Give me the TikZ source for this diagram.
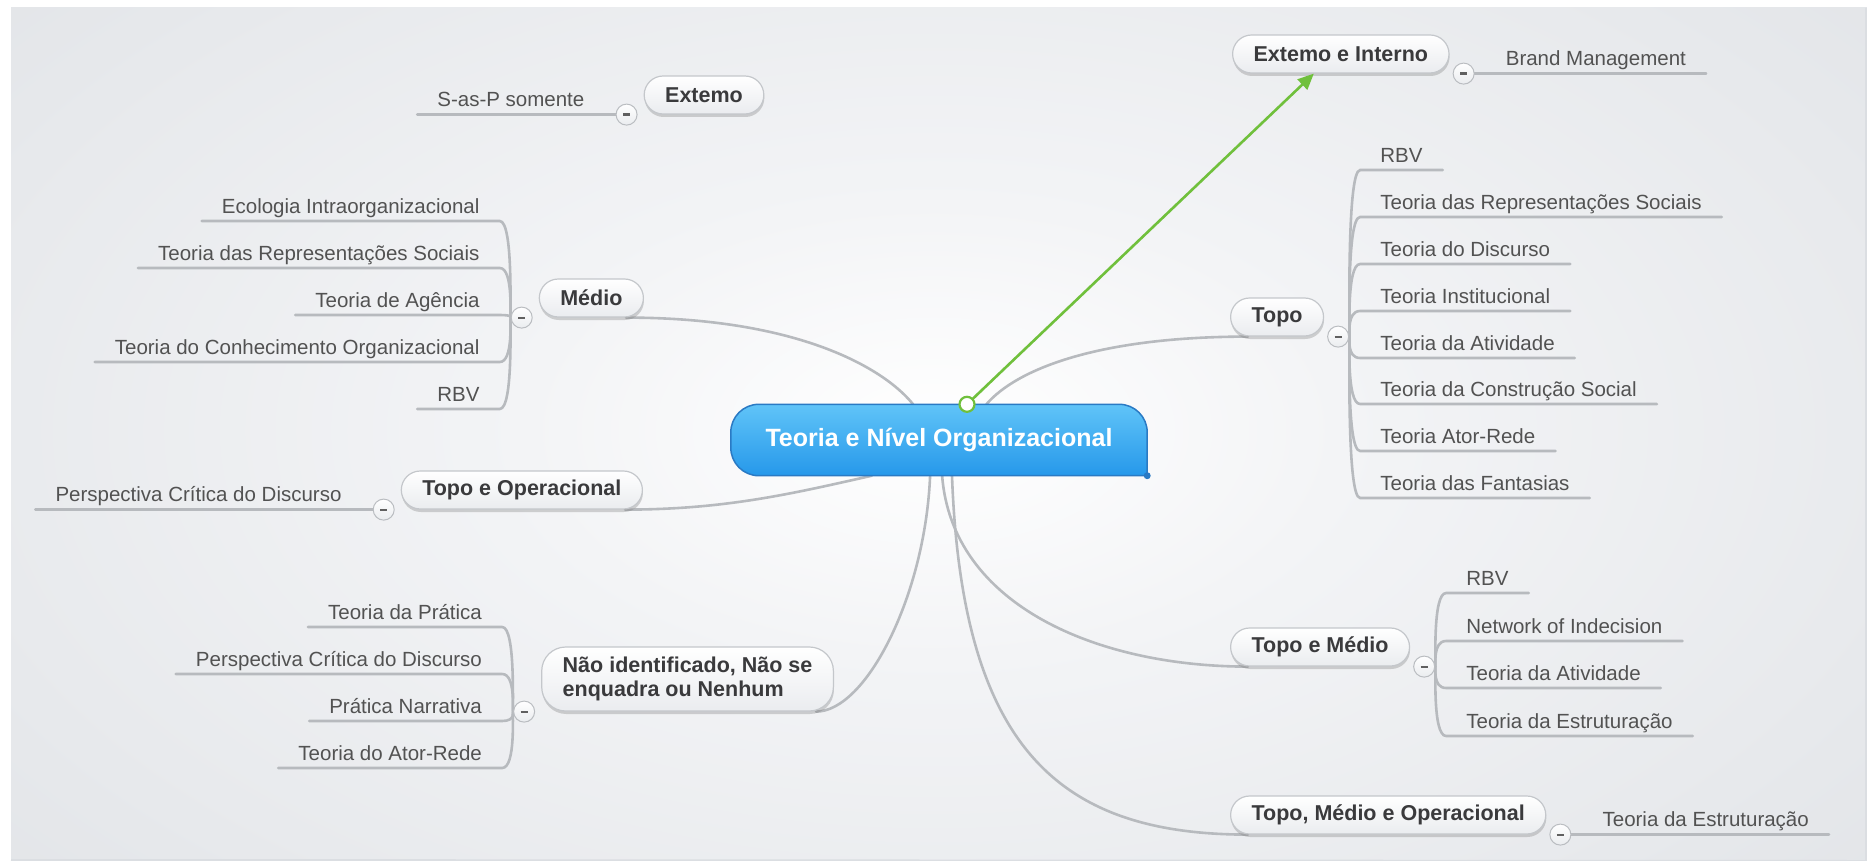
\documentclass[tikz,border=0pt]{standalone}
\usepackage{fontspec}
\setmainfont{Liberation Sans}
\usetikzlibrary{arrows.meta,shadows}

\definecolor{bgcol}{RGB}{219,222,226}
\definecolor{bgmid}{RGB}{243,244,246}
\definecolor{branchcol}{RGB}{183,186,190}
\definecolor{leafcol}{RGB}{82,82,82}
\definecolor{topiccol}{RGB}{58,58,60}
\definecolor{topicedge}{RGB}{196,199,203}
\definecolor{topicbot}{RGB}{234,236,239}
\definecolor{bluetop}{RGB}{96,196,248}
\definecolor{bluebot}{RGB}{38,152,234}
\definecolor{blueedge}{RGB}{42,122,196}
\definecolor{linkgreen}{RGB}{112,192,60}
\definecolor{knobedge}{RGB}{186,189,193}
\definecolor{dashcol}{RGB}{96,96,96}

\pgfdeclareradialshading{mapbg}{\pgfpointorigin}{color(0bp)=(white); color(9bp)=(bgmid); color(36bp)=(bgcol); color(50bp)=(bgcol)}
\pgfdeclarelayer{back}
\pgfdeclarelayer{lines}
\pgfdeclarelayer{mid}
\pgfsetlayers{back,lines,mid,main}

\tikzset{
  branch/.style={draw=branchcol, line width=2.6pt, line cap=round},
  topic/.style={rounded corners=19pt, draw=topicedge, line width=1.2pt,
    top color=white, bottom color=topicbot, minimum height=38pt,
    inner xsep=21pt, text=topiccol, font=\fontsize{21.5}{24}\selectfont\bfseries,
    drop shadow={shadow xshift=0.5pt, shadow yshift=-3pt, opacity=0.3, fill=black!55}},
  leaf/.style={text=leafcol, inner xsep=20pt, inner ysep=3pt,
    text height=15pt, text depth=4.5pt, font=\fontsize{20.5}{24}\selectfont},
  rleaf/.style={leaf, anchor=south west, xshift=22pt},
  lleaf/.style={leaf, anchor=south east, xshift=-22pt},
  knob/.style={circle, draw=knobedge, line width=1pt, top color=white,
    bottom color=topicbot, minimum size=21pt, inner sep=0pt, text=dashcol},
  centertopic/.style={minimum width=416pt, minimum height=71pt, text=white,
    font=\fontsize{25}{28}\selectfont\bfseries},
  centershape/.style={rounded corners=28pt, draw=blueedge, line width=1.5pt,
    top color=bluetop, bottom color=bluebot},
  greendot/.style={circle, draw=linkgreen, line width=2.2pt, fill=white,
    minimum size=15pt, inner sep=0pt},
  link/.style={draw=linkgreen, line width=2.6pt, -{Triangle[length=16pt,width=14pt]}}
}

\begin{document}
\begin{tikzpicture}[x=1pt, y=-1pt]

\def\knobmark{\rule{7pt}{2.2pt}}
\def\mapframe{(11,8) rectangle (1867,861)}

\useasboundingbox (0,0) rectangle (1867,861);
\begin{pgfonlayer}{back}
\fill[white] (0,0) rectangle (1867,861);
\fill[bgcol] \mapframe;
\begin{scope}
\clip \mapframe;
\shade[shading=mapbg] (-200,-200) rectangle (2067,1061);
\end{scope}
\end{pgfonlayer}

% central topic
\node[centertopic] (cen) at (939,440) {Teoria e Nível Organizacional};
\begin{pgfonlayer}{mid}
\draw[centershape] (cen.south east) -- (cen.north east) -- (cen.north west) -- (cen.south west) -- (cen.south east);
\fill[blueedge] (cen.south east) circle (3.5pt);
\end{pgfonlayer}

% main topics
\node[topic, anchor=west] (extint) at (1232,54) {Extemo e Interno};
\node[topic] (ext) at (704,95) {Extemo};
\node[topic, anchor=east] (medio) at (644,298) {Médio};
\node[topic, anchor=east] (topoop) at (643,490) {Topo e Operacional};
\node[topic, anchor=east, align=left, minimum height=64pt, rounded corners=24pt] (nao) at (834,679) {Não identificado, Não se\\enquadra ou Nenhum};
\node[topic, anchor=west] (topo) at (1230,317) {Topo};
\node[topic, anchor=west] (topomedio) at (1230,647) {Topo e Médio};
\node[topic, anchor=west] (tmo) at (1230,815) {Topo, Médio e Operacional};

% collapse knobs
\node[knob] (extint-k) at ([xshift=14pt]extint.south east) {\knobmark};
\node[knob] (ext-k) at ([xshift=-17pt]ext.south west) {\knobmark};
\node[knob] (medio-k) at ([xshift=-17pt]medio.south west) {\knobmark};
\node[knob] (topoop-k) at ([xshift=-17pt]topoop.south west) {\knobmark};
\node[knob] (nao-k) at ([xshift=-17pt]nao.south west) {\knobmark};
\node[knob] (topo-k) at ([xshift=14pt]topo.south east) {\knobmark};
\node[knob] (topomedio-k) at ([xshift=14pt]topomedio.south east) {\knobmark};
\node[knob] (tmo-k) at ([xshift=14pt]tmo.south east) {\knobmark};

% leaves
\node[rleaf] (x1) at (extint-k) {Brand Management};
\node[lleaf] (e1) at (ext-k) {S-as-P somente};
\node[lleaf] (o1) at (topoop-k) {Perspectiva Crítica do Discurso};
\node[rleaf] (s1) at (tmo-k) {Teoria da Estruturação};

\node[lleaf] (m1) at (medio-k |- 0,221) {Ecologia Intraorganizacional};
\node[lleaf] (m2) at (medio-k |- 0,268) {Teoria das Representações Sociais};
\node[lleaf] (m3) at (medio-k |- 0,315) {Teoria de Agência};
\node[lleaf] (m4) at (medio-k |- 0,362) {Teoria do Conhecimento Organizacional};
\node[lleaf] (m5) at (medio-k |- 0,409) {RBV};

\node[lleaf] (n1) at (nao-k |- 0,627) {Teoria da Prática};
\node[lleaf] (n2) at (nao-k |- 0,674) {Perspectiva Crítica do Discurso};
\node[lleaf] (n3) at (nao-k |- 0,721) {Prática Narrativa};
\node[lleaf] (n4) at (nao-k |- 0,768) {Teoria do Ator-Rede};

\node[rleaf] (t1) at (topo-k |- 0,170) {RBV};
\node[rleaf] (t2) at (topo-k |- 0,217) {Teoria das Representações Sociais};
\node[rleaf] (t3) at (topo-k |- 0,264) {Teoria do Discurso};
\node[rleaf] (t4) at (topo-k |- 0,311) {Teoria Institucional};
\node[rleaf] (t5) at (topo-k |- 0,358) {Teoria da Atividade};
\node[rleaf] (t6) at (topo-k |- 0,404) {Teoria da Construção Social};
\node[rleaf] (t7) at (topo-k |- 0,451) {Teoria Ator-Rede};
\node[rleaf] (t8) at (topo-k |- 0,498) {Teoria das Fantasias};

\node[rleaf] (p1) at (topomedio-k |- 0,593) {RBV};
\node[rleaf] (p2) at (topomedio-k |- 0,641) {Network of Indecision};
\node[rleaf] (p3) at (topomedio-k |- 0,688) {Teoria da Atividade};
\node[rleaf] (p4) at (topomedio-k |- 0,736) {Teoria da Estruturação};

% connectors
\begin{pgfonlayer}{lines}
\draw[branch] ([xshift=-18pt]medio.south east) .. controls +(174,0) and +(-28,-35) .. (cen.126);
\draw[branch] ([xshift=18pt]topo.south west) .. controls +(-150,0) and +(30,-35) .. (cen.37);
\draw[branch] ([xshift=-18pt]topoop.south east) .. controls +(100,0) and +(-80,18) .. (cen.208);
\draw[branch] (cen.256) .. controls +(-5,120) and +(50,0) .. ([xshift=-18pt]nao.south east);
\draw[branch] (cen.275) .. controls +(10,130) and +(-150,0) .. ([xshift=18pt]topomedio.south west);
\draw[branch] (cen.290) .. controls +(10,274) and +(-188,0) .. ([xshift=18pt]tmo.south west);

\draw[branch] (extint-k) -- (x1.south west) -- (x1.south east);
\draw[branch] (ext-k) -- (e1.south east) -- (e1.south west);
\draw[branch] (topoop-k) -- (o1.south east) -- (o1.south west);
\draw[branch] (tmo-k) -- (s1.south west) -- (s1.south east);

\draw[branch] (medio-k) .. controls +(-12,0) and +(14,0) .. (m1.south east) -- (m1.south west);
\draw[branch] (medio-k) .. controls +(-12,0) and +(14,0) .. (m2.south east) -- (m2.south west);
\draw[branch] (medio-k) .. controls +(-12,0) and +(14,0) .. (m3.south east) -- (m3.south west);
\draw[branch] (medio-k) .. controls +(-12,0) and +(14,0) .. (m4.south east) -- (m4.south west);
\draw[branch] (medio-k) .. controls +(-12,0) and +(14,0) .. (m5.south east) -- (m5.south west);

\draw[branch] (nao-k) .. controls +(-12,0) and +(14,0) .. (n1.south east) -- (n1.south west);
\draw[branch] (nao-k) .. controls +(-12,0) and +(14,0) .. (n2.south east) -- (n2.south west);
\draw[branch] (nao-k) .. controls +(-12,0) and +(14,0) .. (n3.south east) -- (n3.south west);
\draw[branch] (nao-k) .. controls +(-12,0) and +(14,0) .. (n4.south east) -- (n4.south west);

\draw[branch] (topo-k) .. controls +(12,0) and +(-14,0) .. (t1.south west) -- (t1.south east);
\draw[branch] (topo-k) .. controls +(12,0) and +(-14,0) .. (t2.south west) -- (t2.south east);
\draw[branch] (topo-k) .. controls +(12,0) and +(-14,0) .. (t3.south west) -- (t3.south east);
\draw[branch] (topo-k) .. controls +(12,0) and +(-14,0) .. (t4.south west) -- (t4.south east);
\draw[branch] (topo-k) .. controls +(12,0) and +(-14,0) .. (t5.south west) -- (t5.south east);
\draw[branch] (topo-k) .. controls +(12,0) and +(-14,0) .. (t6.south west) -- (t6.south east);
\draw[branch] (topo-k) .. controls +(12,0) and +(-14,0) .. (t7.south west) -- (t7.south east);
\draw[branch] (topo-k) .. controls +(12,0) and +(-14,0) .. (t8.south west) -- (t8.south east);

\draw[branch] (topomedio-k) .. controls +(12,0) and +(-14,0) .. (p1.south west) -- (p1.south east);
\draw[branch] (topomedio-k) .. controls +(12,0) and +(-14,0) .. (p2.south west) -- (p2.south east);
\draw[branch] (topomedio-k) .. controls +(12,0) and +(-14,0) .. (p3.south west) -- (p3.south east);
\draw[branch] (topomedio-k) .. controls +(12,0) and +(-14,0) .. (p4.south west) -- (p4.south east);
\end{pgfonlayer}

% relation to Extemo e Interno
\draw[link] ([xshift=28pt]cen.north) -- (extint.216);
\node[greendot] (gc) at ([xshift=28pt]cen.north) {};

% frame edge
\draw[bgcol, line width=2pt] (1866,8) -- (1866,861) -- (11,860);

\end{tikzpicture}
\end{document}
